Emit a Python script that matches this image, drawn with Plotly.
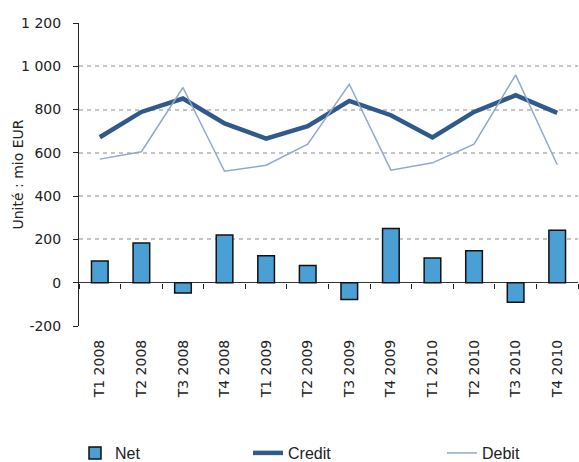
import plotly.graph_objects as go

categories = ["T1 2008", "T2 2008", "T3 2008", "T4 2008",
              "T1 2009", "T2 2009", "T3 2009", "T4 2009",
              "T1 2010", "T2 2010", "T3 2010", "T4 2010"]
net = [100, 183, -48, 220, 125, 80, -78, 251, 114, 148, -90, 242]
credit = [672, 789, 851, 736, 666, 723, 840, 774, 671, 789, 866, 785]
debit = [571, 605, 902, 515, 543, 640, 917, 520, 554, 640, 960, 545]
y_ticks = [-200, 0, 200, 400, 600, 800, 1000, 1200]
y_tick_labels = ["-200", "0", "200", "400", "600", "800", "1 000", "1 200"]
y_title = "Unité : mio EUR"

W, H = 579, 462
ML, MR, MT, MB = 79, 1, 23, 136
font_main = "DejaVu Sans"
font_leg = "Liberation Sans Narrow, Liberation Sans"

fig = go.Figure()
fig.add_trace(go.Bar(
    x=categories, y=net, name="Net", width=0.4,
    marker=dict(color="#4a9fd5", line=dict(color="#111111", width=1.5)),
    legend="legend",
))
fig.add_trace(go.Scatter(
    x=categories, y=credit, name="Credit", mode="lines",
    line=dict(color="#2f5a8b", width=4.5), legend="legend2",
))
fig.add_trace(go.Scatter(
    x=categories, y=debit, name="Debit", mode="lines",
    line=dict(color="#91a9c6", width=1.5), legend="legend3",
))
# helper trace for the boundary ticks on the zero line
fig.add_trace(go.Scatter(
    x=categories, y=net, mode="markers", marker=dict(opacity=0),
    xaxis="x2", showlegend=False, hoverinfo="skip",
))

ymin, ymax = -200, 1200
leg_common = dict(orientation="h", xref="container", yref="container",
                  xanchor="left", yanchor="middle", y=(H - 453) / H,
                  font=dict(family=font_leg, size=16, color="#222222"),
                  bgcolor="rgba(0,0,0,0)")
fig.update_layout(
    width=W, height=H,
    margin=dict(l=ML, r=MR, t=MT, b=MB, autoexpand=False),
    plot_bgcolor="white", paper_bgcolor="white",
    font=dict(family=font_main, size=14, color="#222222"),
    xaxis=dict(
        type="category", categoryorder="array", categoryarray=categories,
        range=[-0.5, 11.5], tickangle=-90, ticks="", showline=False,
        showgrid=False, zeroline=False, tickfont=dict(size=14),
        ticklabelstandoff=10, automargin=False,
    ),
    xaxis2=dict(
        type="category", categoryorder="array", categoryarray=categories,
        overlaying="x", anchor="free",
        position=(0 - ymin) / (ymax - ymin),
        range=[-0.5, 11.5], ticks="outside", ticklen=5, tickcolor="#222222",
        tickson="boundaries", showticklabels=False, showline=False,
        showgrid=False, zeroline=False, automargin=False,
    ),
    yaxis=dict(
        range=[ymin, ymax], tickvals=y_ticks, ticktext=y_tick_labels,
        ticks="outside", ticklen=5, tickcolor="#222222",
        showline=True, linecolor="#222222", linewidth=1,
        showgrid=True, gridcolor="#c4c4c4", griddash="4px,4px", gridwidth=1.6,
        zeroline=True, zerolinecolor="#333333", zerolinewidth=1,
        ticklabelstandoff=9, automargin=False,
    ),
    annotations=[dict(
        text=y_title, textangle=-90, showarrow=False,
        xref="paper", yref="paper",
        x=(17 - ML) / (W - ML - MR), y=0.5,
        xanchor="center", yanchor="middle",
        font=dict(family=font_main, size=14, color="#222222"),
    )],
    legend=dict(x=75 / W, **leg_common),
    legend2=dict(x=248 / W, **leg_common),
    legend3=dict(x=442 / W, **leg_common),
)

fig.write_html("out.html",
               config={"displayModeBar": False},
               post_script="document.body.style.margin='0';"
                           "document.body.style.overflow='hidden';")
